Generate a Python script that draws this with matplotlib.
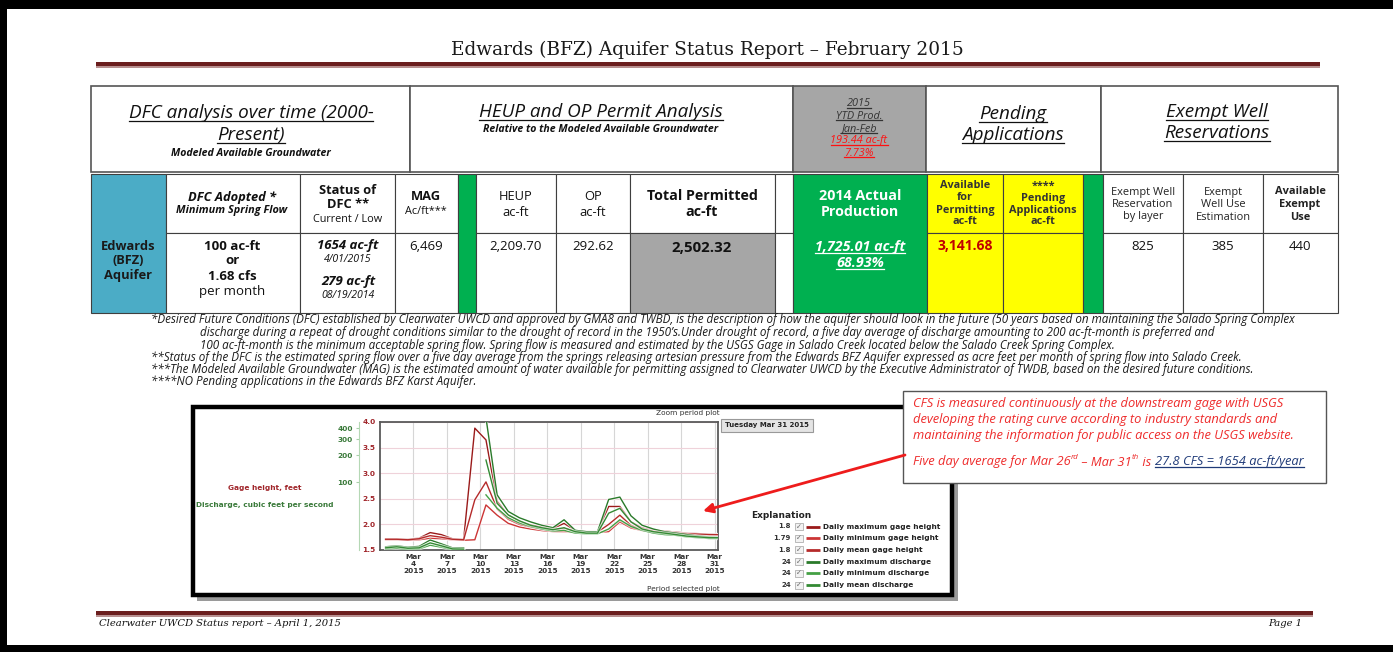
import matplotlib
matplotlib.use("Agg")
import matplotlib.pyplot as plt
import matplotlib.patches as mpatches
import matplotlib.patheffects as pe
from matplotlib.ticker import NullLocator
import numpy as np

W, H = 1393, 652
SANS = ['Open Sans', 'DejaVu Sans']
SERIF = ['DejaVu Serif']

# ---------------- chart data (USGS Salado Creek gage, March 2015) ----------------
days = np.arange(1, 32)
gage_max = [1.72, 1.72, 1.71, 1.73, 1.84, 1.80, 1.72, 1.71, 3.88, 3.65, 2.45, 2.18, 2.06, 1.99, 1.95, 1.92,
            2.02, 1.88, 1.86, 1.86, 2.35, 2.35, 2.05, 1.93, 1.89, 1.87, 1.85, 1.83, 1.82, 1.81, 1.80]
gage_mean = [1.71, 1.71, 1.70, 1.72, 1.78, 1.75, 1.71, 1.70, 2.48, 2.83, 2.30, 2.10, 2.00, 1.95, 1.91, 1.89,
             1.92, 1.87, 1.85, 1.85, 2.00, 2.18, 1.98, 1.90, 1.87, 1.85, 1.83, 1.82, 1.81, 1.80, 1.80]
gage_min = [1.70, 1.70, 1.69, 1.70, 1.73, 1.72, 1.70, 1.69, 1.70, 2.38, 2.18, 2.02, 1.95, 1.91, 1.88, 1.86,
            1.86, 1.85, 1.84, 1.84, 1.86, 2.05, 1.93, 1.88, 1.85, 1.83, 1.82, 1.81, 1.80, 1.79, 1.79]
q_max = [19.0, 19.5, 18.8, 19.2, 22.6, 20.5, 18.5, 18.5, np.nan, 520, 72, 47, 40, 36, 33, 31,
         38, 29, 28, 28, 64, 68, 42, 33, 30, 28, 27, 26, 25, 24.5, 24.2]
q_mean = [18.5, 19.0, 18.3, 18.5, 21.0, 19.5, 18.0, 17.9, np.nan, 176, 58, 43, 37, 33, 31, 29.5,
          31, 28, 27, 27, 45, 51, 36, 30, 28, 27, 26, 25, 24.5, 24, 24]
q_min = [18.0, 18.3, 17.8, 18.0, 19.8, 18.8, 17.6, 17.6, np.nan, 72, 51, 40, 35, 32, 30, 28.5,
         29, 27, 26.5, 26.5, 30, 38, 32, 29, 27, 26, 25.5, 24.5, 24, 23.5, 23.5]

tick_days = [4, 7, 10, 13, 16, 19, 22, 25, 28, 31]
gage_ticks = [1.5, 2.0, 2.5, 3.0, 3.5, 4.0]
q_ticks = [100, 200, 300, 400]

legend_vals = ["1.8", "1.79", "1.8", "24", "24", "24"]
legend_names = ["Daily maximum gage height", "Daily minimum gage height", "Daily mean gage height",
                "Daily maximum discharge", "Daily minimum discharge", "Daily mean discharge"]
legend_cols = ['#9a1a1a', '#cc3535', '#b52a2a', '#2a7a2a', '#44a044', '#338a33']

# ---------------- table text ----------------
edwards_label = ["Edwards", "(BFZ)", "Aquifer"]
dfc_adopted = ["100 ac-ft", "or", "1.68 cfs", "per month"]
dfc_status = ["1654 ac-ft", "4/01/2015", "279 ac-ft", "08/19/2014"]
mag_value = "6,469"
heup_value = "2,209.70"
op_value = "292.62"
total_permitted = "2,502.32"
actual_prod = ["1,725.01 ac-ft", "68.93%"]
ytd_prod = ["2015", "YTD Prod.", "Jan-Feb", "193.44 ac-ft", "7.73%"]
available_permit = "3,141.68"
exempt_values = ["825", "385", "440"]

footnotes = [
    "*Desired Future Conditions (DFC) established by Clearwater UWCD and approved by GMA8 and TWBD, is the description of how the aquifer should look in the future (50 years based on maintaining the Salado Spring Complex",
    "discharge during a repeat of drought conditions similar to the drought of record in the 1950\u2019s.Under drought of record, a five day average of discharge amounting to 200 ac-ft-month is preferred and",
    "100 ac-ft-month is the minimum acceptable spring flow. Spring flow is measured and estimated by the USGS Gage in Salado Creek located below the Salado Creek Spring Complex.",
    "**Status of the DFC is the estimated spring flow over a five day average from the springs releasing artesian pressure from the Edwards BFZ Aquifer expressed as acre feet per month of spring flow into Salado Creek.",
    "***The Modeled Available Groundwater (MAG) is the estimated amount of water available for permitting assigned to Clearwater UWCD by the Executive Administrator of TWDB, based on the desired future conditions.",
    "****NO Pending applications in the Edwards BFZ Karst Aquifer.",
]
note_lines = ["CFS is measured continuously at the downstream gage with USGS",
              "developing the rating curve according to industry standards and",
              "maintaining the information for public access on the USGS website."]

fig = plt.figure(figsize=(W / 100, H / 100), dpi=100)
bg = fig.add_axes([0, 0, 1, 1], zorder=0)
bg.set_xlim(0, W)
bg.set_ylim(H, 0)
bg.axis('off')

underlined = []


def rect(x0, y0, x1, y1, fc='white', ec='#3f3f3f', lw=0.8, z=1, ax=bg):
    ax.add_patch(mpatches.Rectangle((x0, y0), x1 - x0, y1 - y0, fc=fc, ec=ec, lw=lw, zorder=z))


def txt(x, y, s, size=8, weight='normal', style='normal', color='#111111', ha='center', va='center',
        family=SANS, ul=False, ax=bg):
    t = ax.text(x, y, s, fontsize=size, fontweight=weight, fontstyle=style, color=color, ha=ha, va=va,
                family=family, zorder=5)
    if ul:
        underlined.append(t)
    return t


# page frame
rect(0, 0, W, 9, fc='black', ec='none')
rect(0, 0, 7, H, fc='black', ec='none')
rect(0, 645, W, H, fc='black', ec='none')

# title + bars
txt(707, 50, "Edwards (BFZ) Aquifer Status Report \u2013 February 2015", size=13.3, family=SERIF, color='#1a1a1a')
rect(96, 62, 1320, 66, fc='#6b1e1e', ec='none')
rect(96, 66, 1320, 68, fc='#b89090', ec='none')
rect(96, 611, 1313, 615, fc='#6b1e1e', ec='none')
rect(96, 615, 1313, 617, fc='#b89090', ec='none')
txt(99, 623, "Clearwater UWCD Status report \u2013 April 1, 2015", size=7.2, style='italic', family=SERIF,
    ha='left')
txt(1302, 623, "Page 1", size=7.2, style='italic', family=SERIF, ha='right')

# ---------------- table ----------------
row1 = [91, 410, 793, 926, 1101, 1338]
for i in range(5):
    rect(row1[i], 86, row1[i + 1], 172, fc='#a6a6a6' if i == 2 else 'white', ec='#555555', lw=1.2)

cols = [91, 166, 300, 395, 458, 476, 556, 630, 775, 793, 927, 1003, 1083, 1103, 1183, 1263, 1338]
span_fill = {0: '#4bacc6', 4: '#00b050', 9: '#00b050', 12: '#00b050'}
for i in range(len(cols) - 1):
    x0, x1 = cols[i], cols[i + 1]
    if i in span_fill:
        rect(x0, 174, x1, 313, fc=span_fill[i])
    else:
        fc2 = '#ffff00' if i in (10, 11) else 'white'
        fc3 = '#a6a6a6' if i == 7 else fc2
        rect(x0, 174, x1, 233, fc=fc2)
        rect(x0, 233, x1, 313, fc=fc3)

# row 1 headings
txt(251, 113, "DFC analysis over time (2000-", size=13.6, style='italic', ul=True)
txt(251, 135, "Present)", size=13.6, style='italic', ul=True)
txt(251, 153, "Modeled Available Groundwater", size=7.6, weight='bold', style='italic')
txt(601, 112, "HEUP and OP Permit Analysis", size=13.6, style='italic', ul=True)
txt(601, 130, "Relative to the Modeled Available Groundwater", size=7.6, weight='bold', style='italic')
for j, s in enumerate(ytd_prod):
    txt(859, 104 + j * 12.3, s, size=7.8, style='italic', ul=True, color='#ff1010' if j >= 3 else '#333333')
txt(1013, 114, "Pending", size=13.6, style='italic', ul=True)
txt(1013, 135, "Applications", size=13.6, style='italic', ul=True)
txt(1217, 112, "Exempt Well", size=13.6, style='italic', ul=True)
txt(1217, 133, "Reservations", size=13.6, style='italic', ul=True)

# row 2 headings
txt(232, 197, "DFC Adopted *", size=9.3, weight='bold', style='italic')
txt(232, 211, "Minimum Spring Flow", size=7.8, weight='bold', style='italic')
txt(348, 190, "Status of", size=9.3, weight='bold')
txt(348, 205, "DFC **", size=9.3, weight='bold')
txt(348, 219, "Current / Low", size=7.8)
txt(426, 197, "MAG", size=9.3, weight='bold')
txt(426, 211, "Ac/ft***", size=7.8)
txt(516, 196, "HEUP", size=9.3)
txt(516, 212, "ac-ft", size=9.3)
txt(593, 196, "OP", size=9.3)
txt(593, 212, "ac-ft", size=9.3)
txt(702, 196, "Total Permitted", size=10.3, weight='bold')
txt(702, 212, "ac-ft", size=10.3, weight='bold')
txt(860, 196, "2014 Actual", size=10.3, weight='bold', color='white')
txt(860, 212, "Production", size=10.3, weight='bold', color='white')
for j, s in enumerate(["Available", "for", "Permitting", "ac-ft"]):
    txt(965, 186 + j * 12, s, size=7.8, weight='bold', color='#333333')
for j, s in enumerate(["****", "Pending", "Applications", "ac-ft"]):
    txt(1043, 186 + j * 12, s, size=7.8, weight='bold', color='#333333')
for j, s in enumerate(["Exempt Well", "Reservation", "by layer"]):
    txt(1143, 192 + j * 12.5, s, size=7.9, color='#222222')
for j, s in enumerate(["Exempt", "Well Use", "Estimation"]):
    txt(1223, 192 + j * 12.5, s, size=7.9, color='#222222')
for j, s in enumerate(["Available", "Exempt", "Use"]):
    txt(1300, 191 + j * 13.5, s, size=7.9, weight='bold', color='#222222')

# row 3 values
for j, s in enumerate(edwards_label):
    txt(128, 246 + j * 15, s, size=9.3, weight='bold', color='#1a1a1a')
for j, s in enumerate(dfc_adopted):
    txt(232, 246 + j * 15, s, size=9.5, weight='bold' if j < 3 else 'normal')
txt(348, 246, dfc_status[0], size=9.5, weight='bold', style='italic')
txt(348, 260, dfc_status[1], size=7.6, style='italic')
txt(348, 282, dfc_status[2], size=9.5, weight='bold', style='italic')
txt(348, 296, dfc_status[3], size=7.6, style='italic')
txt(426, 246, mag_value, size=9.5)
txt(516, 246, heup_value, size=9.5)
txt(593, 246, op_value, size=9.5)
txt(702, 248, total_permitted, size=10.8, weight='bold')
txt(860, 247, actual_prod[0], size=10.3, weight='bold', style='italic', color='white', ul=True)
txt(860, 263, actual_prod[1], size=10.3, weight='bold', style='italic', color='white', ul=True)
txt(965, 246, available_permit, size=10.0, weight='bold', color='#c00000')
for x, s in zip([1143, 1223, 1300], exempt_values):
    txt(x, 246, s, size=9.5)

# footnotes
fn_pos = [(151, 320), (200, 332.5), (200, 345), (151, 357), (151, 369.5), (151, 382)]
for (x, y), s in zip(fn_pos, footnotes):
    txt(x, y, s, size=8.35, style='italic', ha='left', color='#1a1a1a')

# ---------------- chart frame ----------------
rect(197, 411, 958, 601, fc='#9a9a9a', ec='none', z=1)
rect(193, 407, 952, 595, fc='white', ec='black', lw=3.2, z=2)

ax = fig.add_axes([380 / W, 1 - 550 / H, (718 - 380) / W, (550 - 422) / H], zorder=3)
ax.set_xlim(1.0, 31.3)
ax.set_ylim(1.5, 4.0)
xd = days + 0.5
halo = [pe.Stroke(linewidth=2.4, foreground='#ffffff', alpha=0.6), pe.Normal()]
for ys, c in zip([gage_max, gage_min, gage_mean], legend_cols[:3]):
    ax.plot(xd, ys, color=c, lw=1.0, path_effects=halo, zorder=3)
ax.set_xticks(tick_days)
ax.set_xticklabels([f"Mar\n{d}\n2015" for d in tick_days], fontsize=5.3, fontweight='bold',
                   color='#333333', linespacing=1.15, family='DejaVu Sans')
ax.set_yticks(gage_ticks)
ax.set_yticklabels([f"{v:.1f}" for v in gage_ticks], fontsize=5.3, fontweight='bold', color='#a0252a',
                   family='DejaVu Sans')
ax.tick_params(axis='both', length=0, pad=3)
ax.grid(axis='x', color='#d6d6d6', lw=0.8)
ax.grid(axis='y', color='#efd2da', lw=0.8)
for sp in ax.spines.values():
    sp.set_color('#5a5a5a')
    sp.set_linewidth(1.3)

ax2 = ax.twinx()
ax2.set_yscale('log')
ax2.set_ylim(17.5, 467)
for ys, c in zip([q_max, q_min, q_mean], legend_cols[3:]):
    ax2.plot(xd, ys, color=c, lw=1.0, path_effects=halo, zorder=3)
ax2.yaxis.set_ticks_position('left')
ax2.tick_params(axis='y', which='major', length=2.5, color='#a8d0a8', pad=2, labelsize=5.3,
                labelcolor='#3a7a3a', labelleft=True, labelright=False)
ax2.set_yticks(q_ticks)
ax2.set_yticklabels([str(v) for v in q_ticks], fontsize=5.3, fontweight='bold', color='#3a7a3a',
                    family='DejaVu Sans')
ax2.yaxis.set_minor_locator(NullLocator())
ax2.spines['left'].set_position(('outward', 15))
ax2.spines['left'].set_visible(True)
ax2.spines['left'].set_color('#b5d8b5')
ax2.spines['left'].set_linewidth(0.8)
for k in ('right', 'top', 'bottom'):
    ax2.spines[k].set_visible(False)

txt(265, 488, "Gage height, feet", size=5.3, weight='bold', color='#a0252a', family='DejaVu Sans')
txt(265, 505, "Discharge, cubic feet per second", size=5.3, weight='bold', color='#3a7a3a',
    family='DejaVu Sans')
txt(720, 413, "Zoom period plot", size=5.3, color='#333333', ha='right', family='DejaVu Sans')
txt(720, 589, "Period selected plot", size=5.3, color='#333333', ha='right', family='DejaVu Sans')
rect(721, 419, 813, 432, fc='#e4e4e4', ec='#999999', lw=0.8, z=3)
txt(767, 425.5, "Tuesday Mar 31 2015", size=5.0, weight='bold', color='#222222', family='DejaVu Sans')

# legend
txt(751, 515, "Explanation", size=6.5, weight='bold', ha='left', color='#222222', family='DejaVu Sans')
for i, (v, n, c) in enumerate(zip(legend_vals, legend_names, legend_cols)):
    y = 526.5 + i * 11.7
    txt(791, y, v, size=5.0, weight='bold', ha='right', color='#333333', family='DejaVu Sans')
    rect(794.5, y - 3.5, 802.5, y + 3.5, fc='#f2f2f2', ec='#b0b0b0', lw=0.6, z=3)
    txt(798.5, y, "\u2713", size=5, color='#666666', family='DejaVu Sans')
    bg.plot([806, 820], [y, y], color=c, lw=2.0, solid_capstyle='butt', zorder=4)
    txt(823, y, n, size=5.3, weight='bold', ha='left', color='#222222', family='DejaVu Sans')

# note box
top = fig.add_axes([0, 0, 1, 1], zorder=10)
top.set_xlim(0, W)
top.set_ylim(H, 0)
top.axis('off')
rect(903, 391, 1326, 483, fc='white', ec='#555555', lw=1.0, ax=top)
red = '#ee2b2b'
for j, s in enumerate(note_lines):
    txt(913, 404 + j * 15.5, s, size=9.3, style='italic', ha='left', color=red, ax=top)
kw = dict(fontsize=9.3, fontstyle='italic', color=red, family=SANS, zorder=6)
t0 = top.text(913, 462, "Five day average for Mar 26", ha='left', va='center', **kw)
t1 = top.annotate("rd", xy=(1, 0.55), xycoords=t0, ha='left', va='bottom',
                  **{**kw, 'fontsize': 5.8})
t2 = top.annotate(" \u2013 Mar 31", xy=(1, 0), xycoords=(t1, t0), ha='left', va='bottom', **kw)
t3 = top.annotate("th", xy=(1, 0.55), xycoords=t2, ha='left', va='bottom', **{**kw, 'fontsize': 5.8})
t4 = top.annotate(" is ", xy=(1, 0), xycoords=(t3, t0), ha='left', va='bottom', **kw)
t5 = top.annotate("27.8 CFS = 1654 ac-ft/year", xy=(1, 0), xycoords=(t4, t0), ha='left', va='bottom',
                  **{**kw, 'color': '#1f3a78'})
underlined.append(t5)

top.annotate("", xy=(703, 511), xytext=(905, 455),
             arrowprops=dict(arrowstyle='-|>', color='#ee1c1c', lw=2.0, mutation_scale=14,
                             shrinkA=0, shrinkB=0))

# underlines under the marked texts
fig.canvas.draw()
for lbl in ax2.get_yticklabels():
    lbl.set_fontweight('bold')
    lbl.set_fontsize(5.3)
for t in underlined:
    bb = t.get_window_extent()
    y = H - bb.y0 - 1.5
    col = t.get_color()
    top.plot([bb.x0, bb.x1], [y, y], color=col, lw=0.9, zorder=7)

fig.savefig("out.png", dpi=100)
